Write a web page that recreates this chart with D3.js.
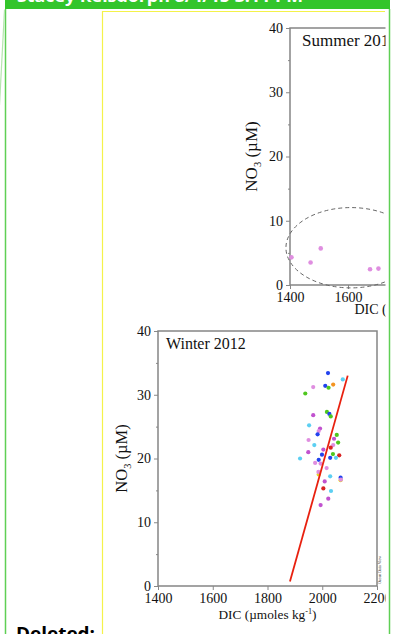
<!DOCTYPE html>
<html lang="en">
<head>
<meta charset="utf-8">
<title>NO3 vs DIC</title>
<style>
html, body {
    margin: 0;
    padding: 0;
    background: #fff;
    overflow: hidden;
 }
svg { display: block; }
.tick text { font-family: "Liberation Serif", "DejaVu Serif", serif; fill: #111; }
.title { font-family: "Liberation Serif", "DejaVu Serif", serif; fill: #111; }
</style>
</head>
<body>
<div id="page"></div>

<script src="https://cdnjs.cloudflare.com/ajax/libs/d3/7.8.5/d3.min.js"></script>
<script>
(function() {
'use strict';

// Data
const xTicks = [1400, 1600, 1800, 2000, 2200];
const yTicks = [0, 10, 20, 30, 40];
const yMinorTicks = [5, 15, 25, 35];

const summerDIC = [1405, 1471, 1506, 1676, 1705];
const summerNO3 = [4.3, 3.5, 5.7, 2.45, 2.55];
// dashed ellipse: centre and radii in data units
const summerEllipseDIC = [1610, 224];
const summerEllipseNO3 = [5.8, 6.25];

const winterGroups = ['blue', 'cyan', 'orange', 'violet', 'magenta', 'green', 'red', 'yellow'];
const winterColors = ['#2242ee', '#5ccff2', '#f39420', '#df8ee0', '#c152cf', '#4fc71f', '#d92222', '#e6d62e'];
const winterDIC = [2021, 2075, 2040, 1967, 2011, 2023, 1938, 1967, 2017, 2026, 2031, 1952, 1992, 1987, 1983,
  2053, 1950, 2043, 2058, 1971, 2040, 2004, 1949, 2031, 1999, 2039, 2062, 1919, 2029, 2050, 1987, 1974,
  1994, 2016, 1987, 1986, 2029, 2067, 2067, 2068, 2009, 2004, 2032, 2022, 1994];
const winterNO3 = [33.4, 32.4, 31.6, 31.2, 31.4, 31.1, 30.2, 26.8, 27.3, 27.0, 26.6, 25.2, 24.7, 24.3, 23.8,
  23.7, 22.9, 23.1, 22.5, 22.1, 22.1, 21.4, 21.0, 21.7, 20.6, 20.7, 20.5, 20.0, 20.1, 20.1, 19.8, 19.3,
  19.2, 18.5, 17.5, 17.9, 17.2, 17.0, 16.6, 16.7, 16.4, 15.3, 14.9, 13.7, 12.7];
const winterGroup = ['blue', 'cyan', 'orange', 'violet', 'blue', 'green', 'green', 'magenta', 'green', 'blue',
  'green', 'cyan', 'magenta', 'violet', 'blue', 'green', 'violet', 'magenta', 'green', 'cyan', 'violet',
  'magenta', 'magenta', 'red', 'blue', 'green', 'red', 'cyan', 'blue', 'cyan', 'blue', 'violet', 'violet',
  'violet', 'yellow', 'violet', 'cyan', 'blue', 'yellow', 'violet', 'magenta', 'red', 'cyan', 'magenta', 'magenta'];
const fitDIC = [1882, 2093];
const fitNO3 = [0.7, 33.0];

const W = 393, H = 634;

const svg = d3.select('#page').append('svg')
  .attr('width', W)
  .attr('height', H);

const defs = svg.append('defs');
defs.append('clipPath').attr('id', 'clipR')
  .append('rect').attr('x', 0).attr('y', 0).attr('width', 385.5).attr('height', H);

// page furniture: comment header, borders, yellow frame
svg.append('rect').attr('x', 5).attr('y', 0).attr('width', 385).attr('height', 9).attr('fill', '#33c52b');
svg.append('text')
  .attr('x', 17).attr('y', 1.5)
  .attr('textLength', 286).attr('lengthAdjust', 'spacingAndGlyphs')
  .style('font', 'bold 16px "Open Sans", "DejaVu Sans", sans-serif')
  .attr('fill', '#fff')
  .text('Stacey Reisdorph 8/4/15 3:11 PM');
svg.append('line').attr('x1', 5.5).attr('x2', 5.5).attr('y1', 9).attr('y2', H)
  .attr('stroke', '#5fcf55').attr('stroke-width', 1.5);
svg.append('line').attr('x1', 389.5).attr('x2', 389.5).attr('y1', 9).attr('y2', H)
  .attr('stroke', '#5fcf55').attr('stroke-width', 1.5);
svg.append('line').attr('x1', 4.5).attr('y1', 10).attr('x2', -0.5).attr('y2', 105)
  .attr('stroke', '#b5e6ae').attr('stroke-width', 1.2);
svg.append('path')
  .attr('d', 'M102.5,' + H + 'V11.5H385')
  .attr('fill', 'none').attr('stroke', '#f4f24a').attr('stroke-width', 1.2);

svg.append('text')
  .attr('x', 16).attr('y', 640)
  .attr('textLength', 79).attr('lengthAdjust', 'spacingAndGlyphs')
  .style('font', 'bold 18px "Open Sans", "DejaVu Sans", sans-serif')
  .attr('fill', '#000')
  .text('Deleted:');

function drawPanel(opt) {
  const g = svg.append('g').attr('clip-path', 'url(#clipR)');
  const x = d3.scaleLinear().domain([1400, 2200]).range(opt.xr);
  const y = d3.scaleLinear().domain([0, 40]).range(opt.yr);

  const yAxis = g.append('g')
    .attr('transform', 'translate(' + opt.xr[0] + ',0)')
    .call(d3.axisLeft(y).tickValues(yTicks).tickSize(4).tickPadding(3));
  yAxis.selectAll('text').style('font-size', opt.tickFont + 'px');
  g.append('g')
    .attr('transform', 'translate(' + opt.xr[0] + ',0)')
    .call(d3.axisLeft(y).tickValues(yMinorTicks).tickSize(2).tickFormat(''));

  const xAxis = g.append('g')
    .attr('transform', 'translate(0,' + opt.yr[0] + ')')
    .call(d3.axisBottom(x).tickValues(xTicks).tickSize(4).tickPadding(3).tickFormat(d3.format('d')));
  xAxis.selectAll('text').style('font-size', opt.tickFont + 'px');

  g.selectAll('.domain').remove();
  g.selectAll('.tick line').attr('stroke', '#888');

  g.append('rect')
    .attr('x', opt.xr[0]).attr('y', opt.yr[1])
    .attr('width', opt.xr[1] - opt.xr[0]).attr('height', opt.yr[0] - opt.yr[1])
    .attr('fill', 'none').attr('stroke', '#858585').attr('stroke-width', 1.5);

  g.append('text').attr('class', 'title')
    .attr('x', opt.xr[0] + opt.titleDx).attr('y', opt.yr[1] + 18)
    .style('font-size', opt.titleFont + 'px')
    .text(opt.title);

  // y axis title with subscript
  const yt = g.append('text').attr('class', 'title')
    .attr('transform', 'translate(' + opt.yTitleX + ',' + ((opt.yr[0] + opt.yr[1]) / 2) + ') rotate(-90)')
    .attr('text-anchor', 'middle')
    .style('font-size', opt.yTitleFont + 'px');
  yt.append('tspan').text('NO');
  yt.append('tspan').attr('dy', 4).style('font-size', (opt.yTitleFont * 0.62) + 'px').text('3');
  yt.append('tspan').attr('dy', -4).text(' (\u00b5M)');

  const xt = g.append('text').attr('class', 'title')
    .attr('x', (opt.xr[0] + opt.xr[1]) / 2)
    .attr('y', opt.yr[0] + opt.xTitleDy)
    .attr('text-anchor', 'middle')
    .style('font-size', opt.xTitleFont + 'px');
  xt.append('tspan').text('DIC (\u00b5moles kg');
  xt.append('tspan').attr('dy', -5).style('font-size', (opt.xTitleFont * 0.62) + 'px').text('-1');
  xt.append('tspan').attr('dy', 5).text(')');

  return { g: g, x: x, y: y };
}

// Summer panel (partly cut off on the right)
const summer = drawPanel({
  xr: [290, 522], yr: [285, 28],
  title: 'Summer 2012', titleDx: 12, titleFont: 17, tickFont: 14,
  yTitleX: 256.5, yTitleFont: 17,
  xTitleDy: 29, xTitleFont: 14
});

summer.g.append('ellipse')
  .attr('cx', summer.x(summerEllipseDIC[0]))
  .attr('cy', summer.y(summerEllipseNO3[0]))
  .attr('rx', summer.x(1400 + summerEllipseDIC[1]) - summer.x(1400))
  .attr('ry', summer.y(0) - summer.y(summerEllipseNO3[1]))
  .attr('fill', 'none').attr('stroke', '#666')
  .attr('stroke-width', 1).attr('stroke-dasharray', '4,3');

summer.g.selectAll('circle.pt')
  .data(summerDIC)
  .enter()
  .append('circle')
  .attr('class', 'pt')
  .attr('cx', d => summer.x(d))
  .attr('cy', (d, i) => summer.y(summerNO3[i]))
  .attr('r', 2.3)
  .attr('fill', '#df8ee0');

// Winter panel
const winter = drawPanel({
  xr: [158, 377], yr: [586, 331],
  title: 'Winter 2012', titleDx: 8, titleFont: 16, tickFont: 14,
  yTitleX: 127, yTitleFont: 16.5,
  xTitleDy: 33, xTitleFont: 13.3
});

const color = d3.scaleOrdinal().domain(winterGroups).range(winterColors);

winter.g.selectAll('circle.pt')
  .data(winterDIC)
  .enter()
  .append('circle')
  .attr('class', 'pt')
  .attr('cx', d => winter.x(d))
  .attr('cy', (d, i) => winter.y(winterNO3[i]))
  .attr('r', 2.1)
  .attr('fill', (d, i) => color(winterGroup[i]));

winter.g.append('line')
  .attr('x1', winter.x(fitDIC[0])).attr('y1', winter.y(fitNO3[0]))
  .attr('x2', winter.x(fitDIC[1])).attr('y2', winter.y(fitNO3[1]))
  .attr('stroke', '#e8200f').attr('stroke-width', 1.8);

winter.g.append('text')
  .attr('transform', 'translate(381,570) rotate(-90)')
  .attr('text-anchor', 'middle')
  .style('font', '4px "Liberation Serif", serif')
  .attr('fill', '#222')
  .text('Ocean Data View');

}());
</script>
</body>
</html>
